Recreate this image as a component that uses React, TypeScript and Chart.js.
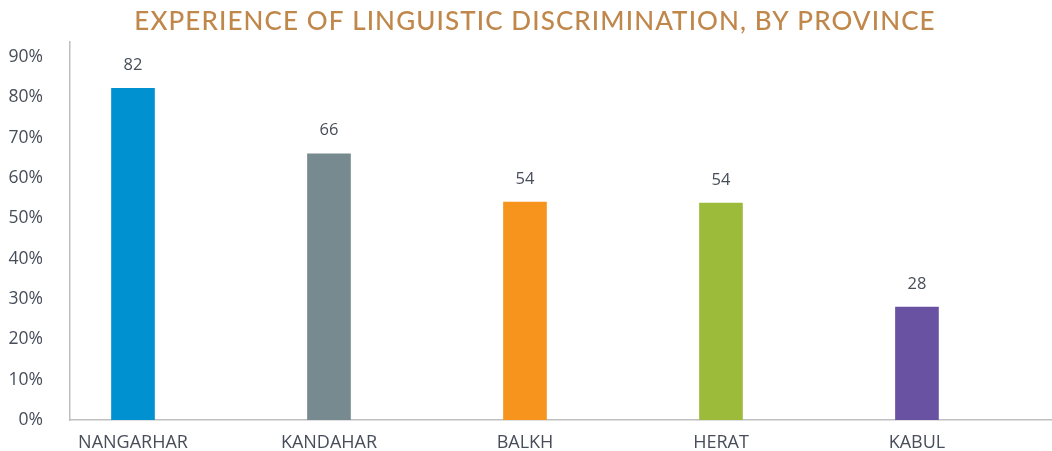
import React, { useEffect, useRef } from "react";
import { Chart, registerables } from "chart.js";

Chart.register(...registerables);

const TITLE = "EXPERIENCE OF LINGUISTIC DISCRIMINATION, BY PROVINCE";
const provinces = ["NANGARHAR", "KANDAHAR", "BALKH", "HERAT", "KABUL"];
const values = [82.2, 66, 54, 53.8, 28];
const barColors = ["#0091D0", "#778A8F", "#F7941D", "#9DBB3A", "#6A52A3"];
const yTicks = [0, 10, 20, 30, 40, 50, 60, 70, 80, 90];

const textColor = "#474d59";

const overlayPlugin = {
  id: "overlay",
  afterDraw(chart: any) {
    const ctx = chart.ctx;
    ctx.save();
    // title
    ctx.fillStyle = "#C0874A";
    ctx.font = "500 26px Lato";
    (ctx as any).letterSpacing = "1.1px";
    ctx.textAlign = "center";
    ctx.textBaseline = "middle";
    ctx.fillText(TITLE, 535, 22);
    (ctx as any).letterSpacing = "0px";
    // data labels
    const meta = chart.getDatasetMeta(0);
    ctx.fillStyle = textColor;
    ctx.font = "16.5px 'Open Sans'";
    meta.data.forEach((bar: any, i: number) => {
      ctx.fillText(String(Math.round(values[i])), bar.x, bar.y - 23);
    });
    ctx.restore();
  },
};

export default function App() {
  const ref = useRef<HTMLCanvasElement | null>(null);
  useEffect(() => {
    document.body.style.margin = "0";
    const chart = new Chart(ref.current as HTMLCanvasElement, {
      type: "bar",
      data: {
        datasets: [
          {
            data: values.map((v, i) => ({ x: i, y: v })),
            backgroundColor: barColors,
            barThickness: 43,
          },
        ],
      },
      options: {
        animation: false,
        responsive: false,
        maintainAspectRatio: false,
        layout: { padding: { top: 42, right: 0, left: 0, bottom: 0 } },
        plugins: {
          legend: { display: false },
          tooltip: { enabled: false },
          title: { display: false },
        },
        scales: {
          x: {
            type: "linear",
            offset: false,
            min: -0.3214,
            max: 4.689,
            grid: { display: false, drawTicks: false, offset: false },
            border: { display: true, color: "#BFBFBF", width: 1.5 },
            afterBuildTicks(scale: any) {
              scale.ticks = provinces.map((_, i) => ({ value: i }));
            },
            ticks: {
              color: textColor,
              font: { family: "'Open Sans'", size: 18 },
              padding: 12,
              maxRotation: 0,
              autoSkip: false,
              callback: (v: any) => provinces[v] ?? "",
            },
            afterFit(scale: any) {
              scale.height = 31;
              scale.paddingLeft = 0;
              scale.paddingRight = 0;
            },
          },
          y: {
            min: 0,
            max: 93.7,
            grid: { display: false, drawTicks: false },
            border: { display: true, color: "#BFBFBF", width: 1.5 },
            afterBuildTicks(scale: any) {
              scale.ticks = yTicks.map((v) => ({ value: v }));
            },
            ticks: {
              color: textColor,
              font: { family: "'Open Sans'", size: 17.5 },
              padding: 27,
              callback: (v: any) => v + "%",
            },
            afterFit(scale: any) {
              scale.width = 70;
              scale.paddingTop = 0;
              scale.paddingBottom = 0;
            },
          },
        },
      },
      plugins: [overlayPlugin],
    });
    return () => chart.destroy();
  }, []);
  return (
    <div style={{ width: 1052, height: 451 }}>
      <canvas ref={ref} width={1052} height={451} />
    </div>
  );
}
